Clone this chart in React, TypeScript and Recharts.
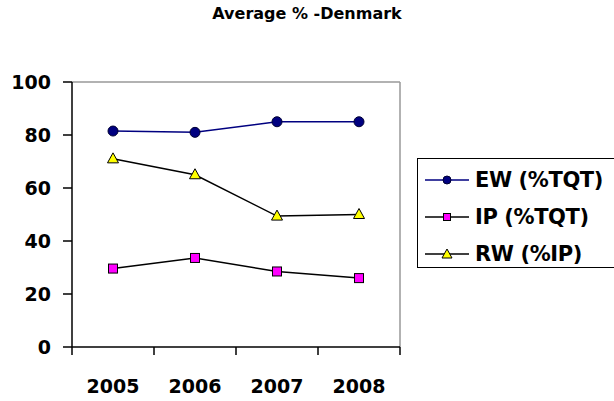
import React from 'react';
import { LineChart, Line, XAxis, YAxis } from 'recharts';

const years = ['2005', '2006', '2007', '2008'];
const ewValues = [81.5, 81, 85, 85];
const ipValues = [29.6, 33.6, 28.5, 26];
const rwValues = [71, 65, 49.4, 50];
const yTicks = [0, 20, 40, 60, 80, 100];

const data = years.map((year, i) => ({
  year,
  ew: ewValues[i],
  ip: ipValues[i],
  rw: rwValues[i],
}));

const W = 614;
const H = 401;
const PLOT_LEFT = 72;
const PLOT_RIGHT = 400;
const BAND = (PLOT_RIGHT - PLOT_LEFT) / years.length;
const FONT = '"DejaVu Sans", Verdana, sans-serif';

const CircleDot = (props: any) => {
  const { cx, cy } = props;
  if (cx == null || cy == null) return null;
  return <circle cx={cx} cy={cy} r={5} fill="#000080" stroke="#000033" strokeWidth={1} />;
};

const SquareDot = (props: any) => {
  const { cx, cy } = props;
  if (cx == null || cy == null) return null;
  return <rect x={cx - 4.5} y={cy - 4.5} width={9} height={9} fill="#FF00FF" stroke="#000" strokeWidth={1} />;
};

const TriangleDot = (props: any) => {
  const { cx, cy } = props;
  if (cx == null || cy == null) return null;
  return (
    <polygon
      points={`${cx},${cy - 6} ${cx - 5.5},${cy + 4} ${cx + 5.5},${cy + 4}`}
      fill="#FFFF00"
      stroke="#000"
      strokeWidth={1}
    />
  );
};

// year label, plus tick marks at band boundaries
const XTick = (props: any) => {
  const { x, y, payload, index } = props;
  const left = x - BAND / 2;
  const top = y - 8;
  return (
    <g>
      <line x1={left} y1={top} x2={left} y2={top + 8} stroke="#000" strokeWidth={1.5} />
      {index === years.length - 1 && (
        <line x1={left + BAND} y1={top} x2={left + BAND} y2={top + 8} stroke="#000" strokeWidth={1.5} />
      )}
      <text x={x} y={y + 38} textAnchor="middle" fontFamily={FONT} fontWeight="bold" fontSize={19} fill="#000">
        {payload.value}
      </text>
    </g>
  );
};

const legendItems = [
  { label: 'EW (%TQT)', color: '#000080', marker: 'circle' },
  { label: 'IP (%TQT)', color: '#000', marker: 'square' },
  { label: 'RW (%IP)', color: '#000', marker: 'triangle' },
];

const LegendBox = () => (
  <div
    style={{
      position: 'absolute',
      left: 417,
      top: 158,
      width: 210,
      height: 110,
      boxSizing: 'border-box',
      border: '1.5px solid #000',
      paddingTop: 2,
      background: '#fff',
      fontFamily: FONT,
    }}
  >
    {legendItems.map((item) => (
      <div key={item.label} style={{ display: 'flex', alignItems: 'center', height: 37 }}>
        <svg width={50} height={20} style={{ marginLeft: 7 }}>
          <line x1={0} y1={10} x2={44} y2={10} stroke={item.color} strokeWidth={1.5} />
          {item.marker === 'circle' && <circle cx={22} cy={10} r={4} fill="#000080" stroke="#000033" />}
          {item.marker === 'square' && <rect x={18.5} y={6.5} width={7} height={7} fill="#FF00FF" stroke="#000" />}
          {item.marker === 'triangle' && <polygon points="22,5 17,14 27,14" fill="#FFFF00" stroke="#000" />}
        </svg>
        <span style={{ fontWeight: 'bold', fontSize: 21, color: '#000', letterSpacing: -0.4 }}>{item.label}</span>
      </div>
    ))}
  </div>
);

export default function App() {
  return (
    <div style={{ position: 'absolute', left: 0, top: 0, width: W, height: H, background: '#fff', overflow: 'hidden' }}>
      <div
        style={{
          position: 'absolute',
          left: 0,
          width: W,
          top: 4,
          textAlign: 'center',
          fontFamily: FONT,
          fontWeight: 'bold',
          fontSize: 16,
          color: '#000',
        }}
      >
        Average % -Denmark
      </div>
      <LineChart width={W} height={H} data={data} margin={{ top: 81, right: W - PLOT_RIGHT - 1, bottom: 14, left: 0 }}>
        <XAxis
          xAxisId="top"
          orientation="top"
          dataKey="year"
          scale="band"
          height={1}
          tick={false}
          tickLine={false}
          axisLine={{ stroke: '#999', strokeWidth: 1.5 }}
        />
        <YAxis
          yAxisId="right"
          orientation="right"
          domain={[0, 100]}
          width={1}
          tick={false}
          tickLine={false}
          axisLine={{ stroke: '#999', strokeWidth: 1.5 }}
        />
        <XAxis
          dataKey="year"
          scale="band"
          height={40}
          tickLine={false}
          axisLine={{ stroke: '#000', strokeWidth: 1.5 }}
          tick={<XTick />}
          interval={0}
        />
        <YAxis
          domain={[0, 100]}
          ticks={yTicks}
          width={PLOT_LEFT}
          tickSize={9}
          tickMargin={12}
          axisLine={{ stroke: '#000', strokeWidth: 1.5 }}
          tickLine={{ stroke: '#000', strokeWidth: 1.5 }}
          tick={{ fontFamily: FONT, fontWeight: 'bold', fontSize: 19, fill: '#000' }}
        />
        <Line dataKey="ew" stroke="#000080" strokeWidth={1.5} dot={<CircleDot />} activeDot={false} isAnimationActive={false} />
        <Line dataKey="ip" stroke="#000" strokeWidth={1.5} dot={<SquareDot />} activeDot={false} isAnimationActive={false} />
        <Line dataKey="rw" stroke="#000" strokeWidth={1.5} dot={<TriangleDot />} activeDot={false} isAnimationActive={false} />
      </LineChart>
      <LegendBox />
    </div>
  );
}
